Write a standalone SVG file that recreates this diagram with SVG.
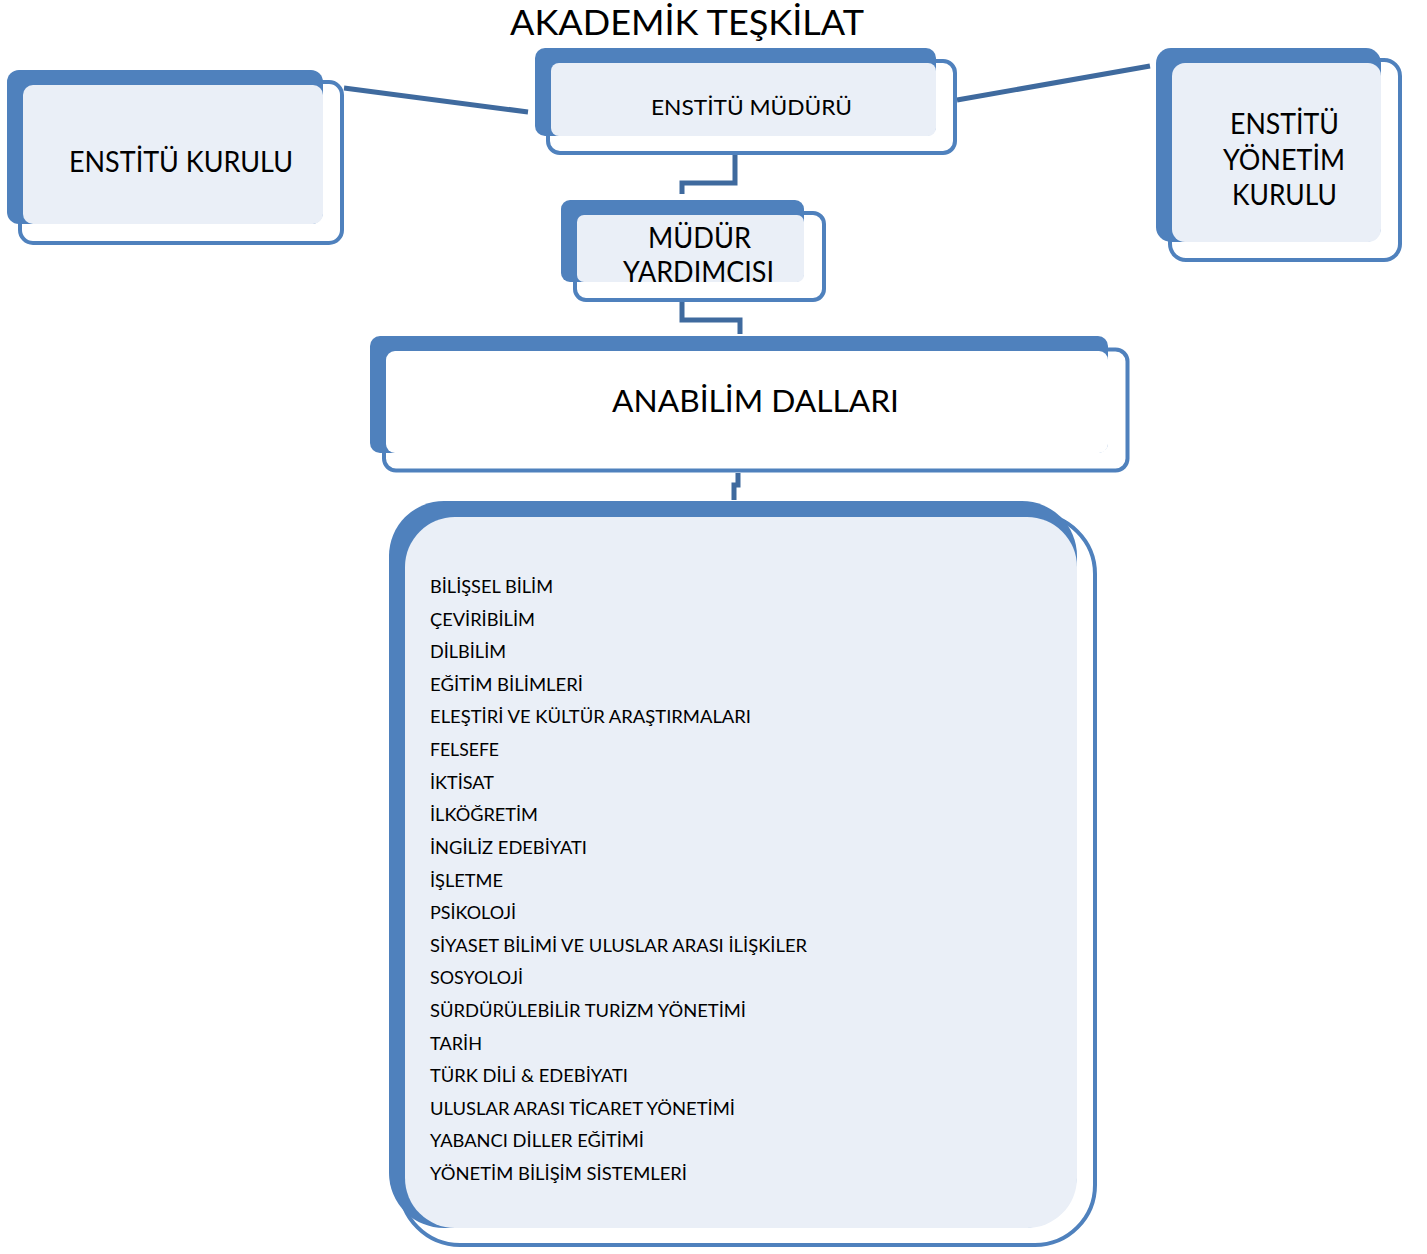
<svg xmlns="http://www.w3.org/2000/svg" width="1427" height="1254" viewBox="0 0 1427 1254">
<style>
.outline{fill:#FFFFFF;stroke:#4F81BD;stroke-width:4}
.back{fill:#4F81BD}
.light{fill:#EAEFF7}
.white{fill:#FFFFFF}
.conn{fill:none;stroke:#3F6A9E;stroke-width:5;stroke-linejoin:miter}
text{font-family:Lato,"Open Sans","Liberation Sans",sans-serif;fill:#000000}
.big{font-size:28px}
.item{font-size:16.5px}
</style>
<rect width="1427" height="1254" fill="#FFFFFF"/>
<g id="connectors">
<path class="conn" d="M344,88 L528,112"/>
<path class="conn" d="M957,100 L1150,66"/>
<path class="conn" d="M735,155 L735,183 L682,183 L682,194"/>
<path class="conn" d="M682,302 L682,320 L740,320 L740,334"/>
<path class="conn" d="M738,473 L738,485 L734,485 L734,500"/>
</g>
<text id="title" x="510" y="35" font-size="34" textLength="354" lengthAdjust="spacingAndGlyphs">AKADEMİK TEŞKİLAT</text>
<g id="enstitu-kurulu">
<rect class="outline" x="20" y="82" width="322" height="161" rx="13"/>
<rect class="back" x="7" y="70" width="316" height="154" rx="12"/>
<rect class="light" x="23" y="85" width="300" height="139" rx="10"/>
<text class="big" x="69" y="172" textLength="224" lengthAdjust="spacingAndGlyphs">ENSTİTÜ KURULU</text>
</g>
<g id="enstitu-muduru">
<rect class="outline" x="548" y="61" width="407" height="92" rx="12"/>
<rect class="back" x="535" y="48" width="401" height="88" rx="10"/>
<rect class="light" x="551" y="63" width="385" height="73" rx="8"/>
<text x="651" y="115" font-size="21" textLength="201" lengthAdjust="spacingAndGlyphs">ENSTİTÜ MÜDÜRÜ</text>
</g>
<g id="enstitu-yonetim-kurulu">
<rect class="outline" x="1170" y="60" width="230" height="200" rx="16"/>
<rect class="back" x="1156" y="48" width="225" height="194" rx="15"/>
<rect class="light" x="1172" y="63" width="209" height="179" rx="13"/>
<text class="big" x="1230" y="134" textLength="109" lengthAdjust="spacingAndGlyphs">ENSTİTÜ</text>
<text class="big" x="1223" y="170" textLength="122" lengthAdjust="spacingAndGlyphs">YÖNETİM</text>
<text class="big" x="1232" y="205" textLength="105" lengthAdjust="spacingAndGlyphs">KURULU</text>
</g>
<g id="mudur-yardimcisi">
<rect class="outline" x="575" y="213" width="249" height="87" rx="11"/>
<rect class="back" x="561" y="200" width="243" height="82" rx="9"/>
<rect class="light" x="577" y="215" width="227" height="67" rx="7"/>
<text class="big" x="648" y="248" textLength="103" lengthAdjust="spacingAndGlyphs">MÜDÜR</text>
<text class="big" x="623" y="282" textLength="151" lengthAdjust="spacingAndGlyphs">YARDIMCISI</text>
</g>
<g id="anabilim-dallari">
<rect class="outline" x="384" y="349.5" width="743.5" height="121" rx="12" stroke-width="5"/>
<rect class="back" x="370" y="336" width="738" height="117" rx="10"/>
<rect class="white" x="386" y="351" width="722" height="102" rx="9"/>
<text x="612" y="412" font-size="31" textLength="287" lengthAdjust="spacingAndGlyphs">ANABİLİM DALLARI</text>
</g>
<g id="anabilim-listesi">
<rect class="outline" x="400" y="514" width="695" height="731" rx="60" stroke-width="5"/>
<rect class="back" x="389" y="501" width="688" height="727" rx="55"/>
<rect class="light" x="405" y="517" width="672" height="711" rx="50"/>
<text class="item" x="430" y="593" textLength="123" lengthAdjust="spacingAndGlyphs">BİLİŞSEL BİLİM</text>
<text class="item" x="430" y="625.6" textLength="105" lengthAdjust="spacingAndGlyphs">ÇEVİRİBİLİM</text>
<text class="item" x="430" y="658.2" textLength="76" lengthAdjust="spacingAndGlyphs">DİLBİLİM</text>
<text class="item" x="430" y="690.8" textLength="153" lengthAdjust="spacingAndGlyphs">EĞİTİM BİLİMLERİ</text>
<text class="item" x="430" y="723.4" textLength="321" lengthAdjust="spacingAndGlyphs">ELEŞTİRİ VE KÜLTÜR ARAŞTIRMALARI</text>
<text class="item" x="430" y="756.1" textLength="69" lengthAdjust="spacingAndGlyphs">FELSEFE</text>
<text class="item" x="430" y="788.7" textLength="64" lengthAdjust="spacingAndGlyphs">İKTİSAT</text>
<text class="item" x="430" y="821.3" textLength="108" lengthAdjust="spacingAndGlyphs">İLKÖĞRETİM</text>
<text class="item" x="430" y="853.9" textLength="157" lengthAdjust="spacingAndGlyphs">İNGİLİZ EDEBİYATI</text>
<text class="item" x="430" y="886.5" textLength="73" lengthAdjust="spacingAndGlyphs">İŞLETME</text>
<text class="item" x="430" y="919.1" textLength="86" lengthAdjust="spacingAndGlyphs">PSİKOLOJİ</text>
<text class="item" x="430" y="951.7" textLength="377" lengthAdjust="spacingAndGlyphs">SİYASET BİLİMİ VE ULUSLAR ARASI İLİŞKİLER</text>
<text class="item" x="430" y="984.3" textLength="93" lengthAdjust="spacingAndGlyphs">SOSYOLOJİ</text>
<text class="item" x="430" y="1016.9" textLength="316" lengthAdjust="spacingAndGlyphs">SÜRDÜRÜLEBİLİR TURİZM YÖNETİMİ</text>
<text class="item" x="430" y="1049.5" textLength="52" lengthAdjust="spacingAndGlyphs">TARİH</text>
<text class="item" x="430" y="1082.2" textLength="198" lengthAdjust="spacingAndGlyphs">TÜRK DİLİ &amp; EDEBİYATI</text>
<text class="item" x="430" y="1114.8" textLength="305" lengthAdjust="spacingAndGlyphs">ULUSLAR ARASI TİCARET YÖNETİMİ</text>
<text class="item" x="430" y="1147.4" textLength="214" lengthAdjust="spacingAndGlyphs">YABANCI DİLLER EĞİTİMİ</text>
<text class="item" x="430" y="1180" textLength="257" lengthAdjust="spacingAndGlyphs">YÖNETİM BİLİŞİM SİSTEMLERİ</text>
</g>
</svg>
